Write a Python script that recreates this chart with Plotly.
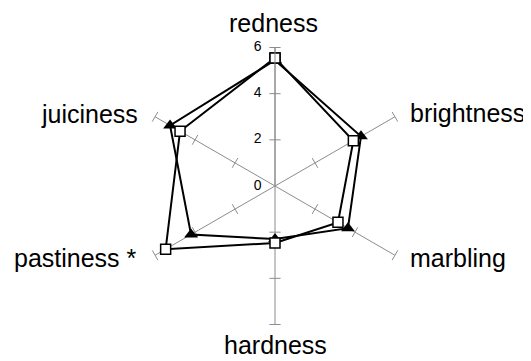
import plotly.graph_objects as go

categories = ["redness", "brightness", "marbling", "hardness", "pastiness *", "juiciness"]
series_triangle = [5.45, 4.3, 3.65, 2.3, 4.2, 5.25]
series_square = [5.55, 3.92, 3.15, 2.47, 5.47, 4.75]
tick_values = [0, 2, 4, 6]
tick_labels = ["0", "2", "4", "6"]
spoke_angles = [90, 30, -30, -90, 210, 150]  # visual direction of each spoke

# label placement (figure pixels) and anchors for the category names
label_pos = [(265, 15, "center"), (400, 105, "left"), (400, 250, "left"),
             (267, 337, "center"), (131, 250, "right"), (132, 106, "right")]

W, H = 531, 361

fig = go.Figure()

# small perpendicular tick marks on every spoke
tr, tt, ta = [], [], []
for cat, ang in zip(categories, spoke_angles):
    for v in tick_values[1:]:
        tr.append(v)
        tt.append(cat)
        ta.append(90 - ang)
fig.add_trace(go.Scatterpolar(
    r=tr, theta=tt, mode="markers", hoverinfo="skip", showlegend=False,
    marker=dict(symbol="line-ew", size=8, angle=ta,
                line=dict(color="#8c8c8c", width=1)),
))

# radial tick labels on the vertical axis
fig.add_trace(go.Scatterpolar(
    r=tick_values, theta=[categories[0]] * len(tick_values), mode="markers+text",
    text=tick_labels, textposition="middle left", hoverinfo="skip", showlegend=False,
    marker=dict(size=20, opacity=0),
    textfont=dict(size=14, color="black"), cliponaxis=False,
))

fig.add_trace(go.Scatterpolar(
    r=series_triangle + series_triangle[:1], theta=categories + categories[:1],
    mode="lines+markers", showlegend=False,
    line=dict(color="black", width=2),
    marker=dict(symbol="triangle-up", size=12, color="black"),
))
fig.add_trace(go.Scatterpolar(
    r=series_square + series_square[:1], theta=categories + categories[:1],
    mode="lines+markers", showlegend=False,
    line=dict(color="black", width=2),
    marker=dict(symbol="square", size=10, color="white", line=dict(color="black", width=1.5)),
))

annotations = []
for cat, (px, py, anchor) in zip(categories, label_pos):
    annotations.append(dict(
        text=cat, x=px / W, y=1 - py / H, xref="paper", yref="paper",
        xanchor=anchor, yanchor="middle", showarrow=False,
        font=dict(size=25, color="black"),
    ))

fig.update_layout(
    width=W, height=H,
    margin=dict(l=0, r=0, t=0, b=0),
    paper_bgcolor="white", plot_bgcolor="white",
    font=dict(family="Liberation Sans, Arial", color="black"),
    annotations=annotations,
    polar=dict(
        domain=dict(x=[128.5 / W, 405.5 / W], y=[1 - 316.5 / H, 1 - 39.5 / H]),
        bgcolor="white",
        radialaxis=dict(range=[0, 6], tickvals=tick_values, angle=90,
                        showline=True, linecolor="#8c8c8c", linewidth=1,
                        showgrid=False, ticks="", showticklabels=False),
        angularaxis=dict(rotation=90, direction="clockwise", showline=False,
                         showgrid=True, gridcolor="#8c8c8c", gridwidth=1,
                         ticks="", showticklabels=False),
    ),
)

fig.write_html("out.html")
